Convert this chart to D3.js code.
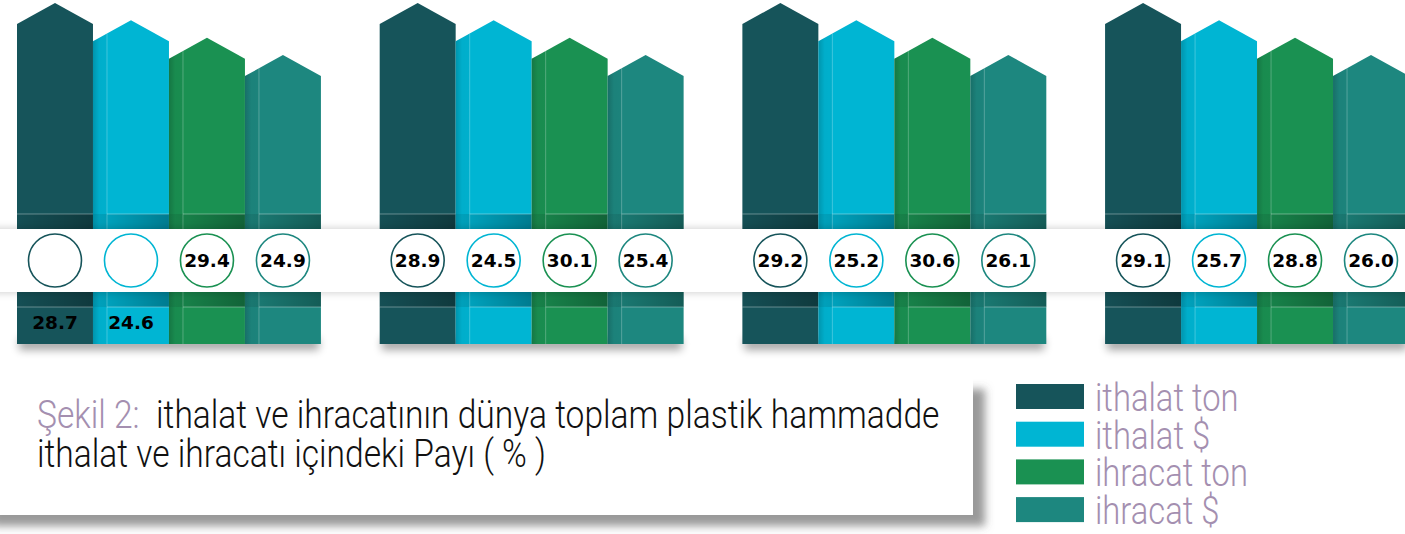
<!DOCTYPE html>
<html>
<head>
<meta charset="utf-8">
<script src="https://cdn.jsdelivr.net/npm/d3@7"></script>
<style>
  body { margin: 0; background: #fff; }
  svg { display: block; }
</style>
</head>
<body>
<script>
// series shown in every group, same order as the legend
var series = ["ithalat ton", "ithalat $", "ihracat ton", "ihracat $"];
var colors = ["#16545a", "#00b5d3", "#1a9152", "#1d877f"];

// four periods, not labelled in the figure
var groups = ["g1", "g2", "g3", "g4"];

// share of world total (%)
var ithalatTon = [28.7, 28.9, 29.2, 29.1];
var ithalatUsd = [24.6, 24.5, 25.2, 25.7];
var ihracatTon = [29.4, 30.1, 30.6, 28.8];
var ihracatUsd = [24.9, 25.4, 26.1, 26.0];
var values = [ithalatTon, ithalatUsd, ihracatTon, ihracatUsd];

var titleLabel = "Şekil 2:";
var titleLine1 = "  ithalat ve ihracatının dünya toplam plastik hammadde";
var titleLine2 = "ithalat ve ihracatı içindeki Payı ( % )";

var w = 1405, h = 534;

var svg = d3.select("body").append("svg")
  .attr("width", w)
  .attr("height", h);

var defs = svg.append("defs");

// soft shadow for the white band
var f1 = defs.append("filter").attr("id", "bandShadow")
  .attr("x", "-5%").attr("y", "-40%").attr("width", "110%").attr("height", "180%");
f1.append("feDropShadow").attr("dx", 0).attr("dy", 0)
  .attr("stdDeviation", 4).attr("flood-color", "#000").attr("flood-opacity", 0.22);

// heavy shadow for the caption box
var f2 = defs.append("filter").attr("id", "boxShadow")
  .attr("x", "-5%").attr("y", "-20%").attr("width", "115%").attr("height", "150%");
f2.append("feDropShadow").attr("dx", 12).attr("dy", 11)
  .attr("stdDeviation", 4).attr("flood-color", "#555").attr("flood-opacity", 0.6);

// blur for the floor shadow under the bars
defs.append("filter").attr("id", "blur")
  .attr("x", "-10%").attr("y", "-100%").attr("width", "120%").attr("height", "300%")
  .append("feGaussianBlur").attr("stdDeviation", 4);

// darker side strip of each bar
var g1 = defs.append("linearGradient").attr("id", "strip");
g1.append("stop").attr("offset", "0%").attr("stop-color", "#000").attr("stop-opacity", 0.18);
g1.append("stop").attr("offset", "45%").attr("stop-color", "#000").attr("stop-opacity", 0.04);
g1.append("stop").attr("offset", "100%").attr("stop-color", "#000").attr("stop-opacity", 0.03);

// darker sections above and below the band
var g2 = defs.append("linearGradient").attr("id", "band");
g2.append("stop").attr("offset", "0%").attr("stop-color", "#000").attr("stop-opacity", 0.06);
g2.append("stop").attr("offset", "100%").attr("stop-color", "#000").attr("stop-opacity", 0.32);

// scales
var xGroup = d3.scaleBand()
  .domain(groups)
  .range([17, 1409])
  .paddingInner(0.162)
  .paddingOuter(0);

var xSeries = d3.scaleBand()
  .domain(series)
  .range([0, xGroup.bandwidth()]);

// bars are drawn as steps, not to value
var yTop = d3.scalePoint()
  .domain(series)
  .range([24, 76]);

var bw = xSeries.bandwidth();
var bottom = 344, line1 = 214, bandTop = 229, bandBottom = 292, line2 = 307;
var roof = 21, strip = 14;

// floor shadow
svg.selectAll(".floor")
  .data(groups)
  .enter().append("rect")
  .attr("class", "floor")
  .attr("x", function(d) { return xGroup(d) + 2; })
  .attr("y", bottom - 6)
  .attr("width", xGroup.bandwidth() - 4)
  .attr("height", 12)
  .attr("fill", "#000")
  .attr("opacity", 0.35)
  .attr("filter", "url(#blur)");

// one item per bar
var bars = [];
groups.forEach(function(g, gi) {
  series.forEach(function(s, si) {
    bars.push({ g: g, gi: gi, s: s, si: si, v: values[si][gi] });
  });
});

function barX(d) { return xGroup(d.g) + xSeries(d.s); }

var bar = svg.selectAll(".bar")
  .data(bars)
  .enter().append("g")
  .attr("class", "bar");

// arrow shaped bar
bar.append("path")
  .attr("d", function(d) {
    var x0 = barX(d), t = yTop(d.s);
    return "M" + x0 + "," + bottom + "L" + x0 + "," + t +
      "L" + (x0 + bw / 2) + "," + (t - roof) +
      "L" + (x0 + bw) + "," + t + "L" + (x0 + bw) + "," + bottom + "Z";
  })
  .attr("fill", function(d) { return colors[d.si]; });

// shaded left strip on bars 2-4
bar.filter(function(d) { return d.si > 0; })
  .append("path")
  .attr("d", function(d) {
    var x0 = barX(d), t = yTop(d.s);
    return "M" + x0 + "," + bottom + "L" + x0 + "," + t +
      "L" + (x0 + strip) + "," + (t - roof * strip / (bw / 2)) +
      "L" + (x0 + strip) + "," + bottom + "Z";
  })
  .attr("fill", "url(#strip)");

// dark sections next to the band
[[line1, bandTop], [bandBottom, line2]].forEach(function(r) {
  bar.append("rect")
    .attr("x", function(d) { return barX(d); })
    .attr("y", r[0])
    .attr("width", bw)
    .attr("height", r[1] - r[0])
    .attr("fill", "url(#band)");
});

// thin light edges
[line1, line2].forEach(function(yy) {
  bar.append("line")
    .attr("x1", function(d) { return barX(d) + (d.si > 0 ? strip : 0); })
    .attr("x2", function(d) { return barX(d) + bw; })
    .attr("y1", yy).attr("y2", yy)
    .attr("stroke", "#fff").attr("stroke-opacity", 0.35).attr("stroke-width", 1);
});
bar.filter(function(d) { return d.si > 0; })
  .append("line")
  .attr("x1", function(d) { return barX(d) + strip; })
  .attr("x2", function(d) { return barX(d) + strip; })
  .attr("y1", function(d) { return yTop(d.s) - roof * strip / (bw / 2); })
  .attr("y2", bottom)
  .attr("stroke", "#fff").attr("stroke-opacity", 0.25).attr("stroke-width", 1);

// white band across the chart
svg.append("rect")
  .attr("x", -10)
  .attr("y", bandTop)
  .attr("width", w + 20)
  .attr("height", bandBottom - bandTop)
  .attr("fill", "#fff")
  .attr("filter", "url(#bandShadow)");

// value circles
var cy = (bandTop + bandBottom) / 2;
var cell = svg.selectAll(".cell")
  .data(bars)
  .enter().append("g")
  .attr("class", "cell");

cell.append("circle")
  .attr("cx", function(d) { return barX(d) + bw / 2; })
  .attr("cy", cy)
  .attr("r", 26.5)
  .attr("fill", "#fff")
  .attr("stroke", function(d) { return colors[d.si]; })
  .attr("stroke-width", 1.6);

// in the first group the two import values sit below the band
function below(d) { return d.gi === 0 && d.si < 2; }

cell.append("text")
  .attr("x", function(d) { return barX(d) + bw / 2; })
  .attr("y", function(d) { return below(d) ? 322 : cy; })
  .attr("dy", "0.36em")
  .attr("text-anchor", "middle")
  .style("font-family", "'DejaVu Sans', sans-serif")
  .style("font-weight", "bold")
  .style("font-size", "18.5px")
  .attr("fill", "#000")
  .text(function(d) { return d.v.toFixed(1); });

// caption box
svg.append("rect")
  .attr("x", -20)
  .attr("y", 378)
  .attr("width", 993)
  .attr("height", 137)
  .attr("fill", "#fff")
  .attr("filter", "url(#boxShadow)");

var thin = "Roboto, 'Open Sans', sans-serif";

var t1 = svg.append("text")
  .style("font-family", thin)
  .style("font-weight", 300)
  .style("font-size", "39px")
  .style("white-space", "pre");
t1.append("tspan").attr("fill", "#a48fb0").text(titleLabel);
t1.append("tspan").attr("fill", "#111").text(titleLine1);

var t2 = svg.append("text")
  .style("font-family", thin)
  .style("font-weight", 300)
  .style("font-size", "39px")
  .attr("fill", "#111")
  .text(titleLine2);

// squeeze to the condensed width of the original
var k = 903 / t1.node().getComputedTextLength();
t1.attr("transform", "translate(37,428) scale(" + k + ",1)");
t2.attr("transform", "translate(37,467) scale(" + k + ",1)");

// legend
var legend = svg.selectAll(".legend")
  .data(series)
  .enter().append("g")
  .attr("class", "legend")
  .attr("transform", function(d, i) { return "translate(1016," + (384 + i * 37.7) + ")"; });

legend.append("rect")
  .attr("width", 68)
  .attr("height", 25)
  .attr("fill", function(d, i) { return colors[i]; });

var lt = legend.append("text")
  .style("font-family", thin)
  .style("font-weight", 300)
  .style("font-size", "38px")
  .attr("fill", "#a48fb0")
  .text(function(d) { return d; });

var k2 = 153 / lt.nodes()[2].getComputedTextLength();
lt.attr("transform", "translate(79,27) scale(" + k2 + ",1)");
</script>
</body>
</html>
